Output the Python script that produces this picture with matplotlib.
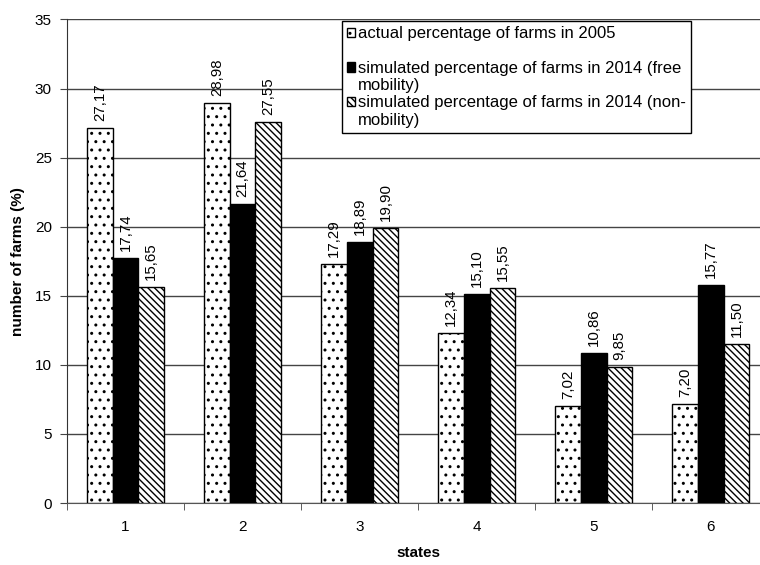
import matplotlib
matplotlib.use('Agg')
import matplotlib.pyplot as plt
import numpy as np
from matplotlib.legend_handler import HandlerPatch

plt.rcParams['font.family'] = ['Liberation Sans', 'DejaVu Sans']
plt.rcParams['hatch.linewidth'] = 1.0
plt.rcParams['hatch.color'] = '#333333'

states = ['1', '2', '3', '4', '5', '6']
actual_2005 = [27.17, 28.98, 17.29, 12.34, 7.02, 7.20]
sim_free = [17.74, 21.64, 18.89, 15.10, 10.86, 15.77]
sim_non = [15.65, 27.55, 19.90, 15.55, 9.85, 11.50]

labels = ['actual percentage of farms in 2005\n',
          'simulated percentage of farms in 2014 (free\nmobility)',
          'simulated percentage of farms in 2014 (non-\nmobility)']


class RaisedPatch(HandlerPatch):
    # put the legend key next to the first line of a two-line label
    def create_artists(self, legend, orig_handle, xdescent, ydescent,
                       width, height, fontsize, trans):
        return super().create_artists(legend, orig_handle, xdescent,
                                      ydescent - 0.6 * fontsize, width,
                                      height, fontsize, trans)


fig = plt.figure(figsize=(7.6, 5.65), dpi=100)
ax = fig.add_axes([0.0882, 0.1097, 0.924, 0.8558])

x = np.arange(1, len(states) + 1)
w = 0.22

b1 = ax.bar(x - w, actual_2005, w, color='white', edgecolor='black',
            hatch='..', linewidth=1, zorder=3)
b2 = ax.bar(x, sim_free, w, color='black', edgecolor='black',
            linewidth=1, zorder=3)
b3 = ax.bar(x + w, sim_non, w, color='white', edgecolor='black',
            hatch='\\\\\\\\\\', linewidth=1, zorder=3)

for bars, vals in [(b1, actual_2005), (b2, sim_free), (b3, sim_non)]:
    for rect, v in zip(bars, vals):
        ax.annotate(f'{v:.2f}'.replace('.', ','),
                    (rect.get_x() + rect.get_width() / 2, v),
                    xytext=(0, 5), textcoords='offset points',
                    rotation=90, ha='center', va='bottom', fontsize=10.8)

ax.set_xlim(0.5, 6.5)
ax.set_ylim(0, 35)
ax.set_yticks(range(0, 36, 5))
ax.set_xticks(x)
ax.set_xticklabels(states, fontsize=11)
ax.tick_params(axis='x', length=0, pad=12)
ax.set_xticks(np.arange(0.5, 6.6, 1), minor=True)
ax.tick_params(axis='x', which='minor', length=5, direction='out',
               color='#444444')
ax.tick_params(axis='y', length=5, direction='out', labelsize=11,
               pad=6, color='#444444')
ax.yaxis.grid(True, color='#444444', linewidth=1)
ax.set_axisbelow(True)

for side in ['top', 'right']:
    ax.spines[side].set_visible(False)
ax.spines['left'].set_color('#333333')
ax.spines['bottom'].set_color('#555555')

ax.set_xlabel('states', fontsize=11, fontweight='bold', labelpad=9)
ax.set_ylabel('number of farms (%)', fontsize=11, fontweight='bold',
              labelpad=7)

keys = [b1[0], b2[0], b3[0]]
leg = ax.legend(keys, labels, loc='upper left',
                bbox_to_anchor=(0.3917, 0.996), fontsize=12,
                frameon=True, fancybox=False, edgecolor='black',
                framealpha=1, borderaxespad=0, borderpad=0.3,
                handlelength=0.5, handleheight=0.5, handletextpad=0.15,
                labelspacing=0.12,
                handler_map={k: RaisedPatch() for k in keys})
leg.get_frame().set_linewidth(1)
leg.set_zorder(5)

fig.savefig('out.png', dpi=100)
